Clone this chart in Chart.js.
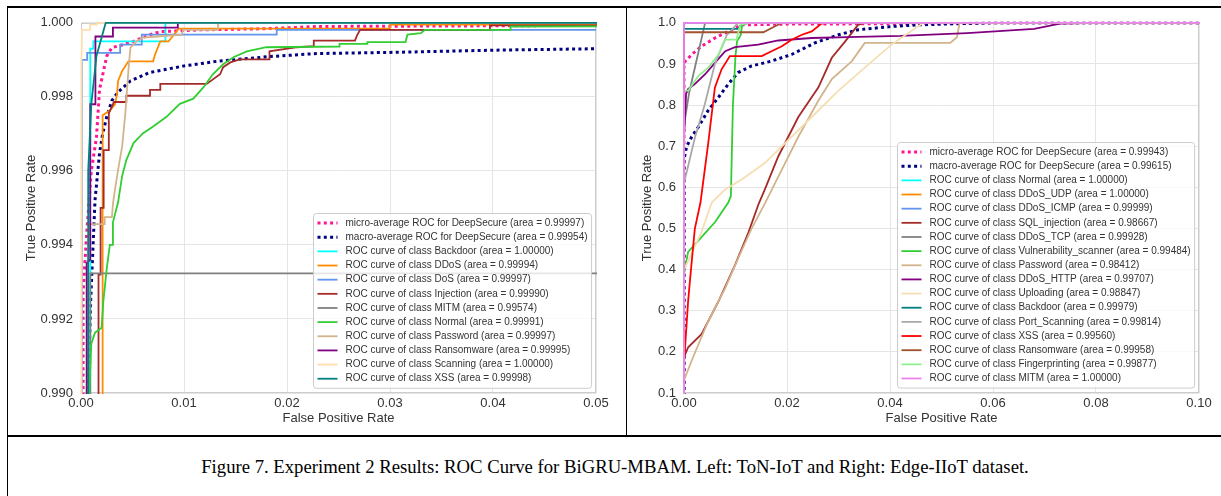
<!DOCTYPE html>
<html>
<head>
<meta charset="utf-8">
<title>ROC curves - BiGRU-MBAM</title>
<script src="https://cdn.jsdelivr.net/npm/chart.js@4.4.1/dist/chart.umd.min.js"></script>
<style>
  html, body { margin: 0; padding: 0; background: #fff; }
  body { width: 1221px; height: 496px; position: relative; overflow: hidden; }
  canvas { position: absolute; }
  #leftChart { left: 8px; top: 7px; }
  #rightChart { left: 627px; top: 7px; }
  .rule { position: absolute; background: #000; }
  #caption {
    position: absolute; left: 9px; right: 0; top: 456px;
    text-align: center; white-space: nowrap;
    font-family: "Liberation Serif", "Times New Roman", serif;
    font-size: 18.7px; color: #000;
  }
</style>
</head>
<body>
<canvas id="leftChart" width="617" height="428"></canvas>
<canvas id="rightChart" width="594" height="428"></canvas>
<div class="rule" style="left:7px;top:6px;width:1214px;height:2px"></div>
<div class="rule" style="left:7px;top:6px;width:1px;height:490px"></div>
<div class="rule" style="left:626px;top:6px;width:1px;height:430px"></div>
<div class="rule" style="left:7px;top:435px;width:1214px;height:2px"></div>
<div id="caption">Figure 7. Experiment 2 Results: ROC Curve for BiGRU-MBAM. Left: ToN-IoT and Right: Edge-IIoT dataset.</div>

<script>
/* ================= DATA : ToN-IoT (left) ================= */
// every curve is a list of [false positive rate, true positive rate]
const tonXTicks = [0, 0.01, 0.02, 0.03, 0.04, 0.05];
const tonXLabels = ["0.00", "0.01", "0.02", "0.03", "0.04", "0.05"];
const tonYTicks = [0.990, 0.992, 0.994, 0.996, 0.998, 1.000];
const tonYLabels = ["0.990", "0.992", "0.994", "0.996", "0.998", "1.000"];

const tonClasses = ["Backdoor", "DDoS", "DoS", "Injection", "MITM", "Normal",
  "Password", "Ransomware", "Scanning", "XSS"];
const tonAreas = [1.00000, 0.99994, 0.99997, 0.99990, 0.99574, 0.99991,
  0.99997, 0.99995, 1.00000, 0.99998];
const tonMicroArea = 0.99997;
const tonMacroArea = 0.99954;

const tonMicro = [[0.0002, 0.985], [0.0002, 0.9927], [0.00055, 0.9943], [0.001, 0.996],
  [0.0015, 0.9969], [0.0018, 0.9982], [0.0025, 0.9991], [0.003, 0.99933], [0.0041, 0.99941],
  [0.0051, 0.9995], [0.0067, 0.99968], [0.0077, 0.99976], [0.0116, 0.99981], [0.018, 0.99984],
  [0.0229, 0.9999], [0.05, 0.99993], [1, 1]];
const tonMacro = [[0.0007, 0.985], [0.0007, 0.990], [0.00094, 0.9925], [0.00136, 0.9952],
  [0.0018, 0.99648], [0.0021, 0.997], [0.0025, 0.99746], [0.003, 0.9979], [0.0036, 0.99813],
  [0.0048, 0.99843], [0.0067, 0.99866], [0.0099, 0.99883], [0.0132, 0.99896], [0.0184, 0.99909],
  [0.0229, 0.99917], [0.03, 0.9992], [0.04, 0.99926], [0.05, 0.9993], [1, 1]];
const tonBackdoor = [[0.0009, 0.985], [0.0009, 0.9993], [0.0012, 0.9993], [0.0012, 0.9995],
  [0.0082, 0.9995], [0.0082, 1], [1, 1]];
const tonDdos = [[0.0021, 0.985], [0.0021, 0.9975], [0.0028, 0.99763], [0.0033, 0.9978],
  [0.0035, 0.99808], [0.0036, 0.99843], [0.004, 0.9987], [0.0046, 0.99896], [0.007, 0.99896],
  [0.0072, 0.99915], [0.0077, 0.9995], [0.0085, 0.9995], [0.0095, 0.99984], [0.03, 0.99984],
  [0.03, 0.99995], [1, 1]];
const tonDos = [[0.00008, 0.985], [0.00008, 0.999], [0.0006, 0.999], [0.0006, 0.99919],
  [0.0038, 0.99919], [0.0038, 0.99941], [0.0059, 0.99941], [0.0059, 0.99968], [0.019, 0.99968],
  [0.019, 0.99981], [0.05, 0.99981], [1, 1]];
const tonInjection = [[0.0017, 0.985], [0.0017, 0.9932], [0.0019, 0.9932], [0.0019, 0.995],
  [0.0022, 0.995], [0.0022, 0.99656], [0.0027, 0.99656], [0.0027, 0.99755], [0.0032, 0.99786],
  [0.0044, 0.99786], [0.0044, 0.99803], [0.0067, 0.99803], [0.0067, 0.99819], [0.0077, 0.99819],
  [0.0077, 0.99835], [0.0122, 0.99835], [0.0135, 0.99861], [0.0138, 0.9988], [0.0145, 0.99893],
  [0.0154, 0.99901], [0.0183, 0.99901], [0.0183, 0.99923], [0.021, 0.99934], [0.0226, 0.99937],
  [0.0226, 0.99952], [0.0266, 0.99952], [0.0268, 0.99966], [0.0271, 0.99981], [0.0397, 0.99981],
  [0.0397, 0.99993], [1, 1]];
const tonMitm = [[0.0009, 0.985], [0.0009, 0.99323], [0.3, 0.99323], [1, 1]];
const tonNormal = [[0.0008, 0.985], [0.0008, 0.990], [0.001, 0.99133], [0.00136, 0.99163],
  [0.002, 0.99176], [0.00217, 0.99248], [0.0025, 0.99336], [0.0028, 0.994], [0.0031, 0.994],
  [0.0031, 0.99461], [0.0036, 0.99515], [0.004, 0.99587], [0.0044, 0.99629], [0.0051, 0.99675],
  [0.006, 0.99701], [0.007, 0.9972], [0.0083, 0.99746], [0.0096, 0.99781], [0.0109, 0.99795],
  [0.0119, 0.99826], [0.0128, 0.99861], [0.0138, 0.99888], [0.0148, 0.99907], [0.0161, 0.99923],
  [0.018, 0.99934], [0.0251, 0.99936], [0.0251, 0.99943], [0.0278, 0.99943], [0.0278, 0.99948],
  [0.0315, 0.99948], [0.0317, 0.99968], [0.033, 0.99972], [0.0334, 0.99981], [0.0417, 0.99981],
  [0.0417, 0.9999], [1, 1]];
const tonPassword = [[0.0007, 0.985], [0.0007, 0.994], [0.0008, 0.99456], [0.0023, 0.99456],
  [0.0023, 0.99475], [0.003, 0.99475], [0.0031, 0.9951], [0.0033, 0.9955], [0.0036, 0.99603],
  [0.004, 0.99667], [0.0043, 0.99755], [0.0046, 0.9987], [0.0048, 0.99933], [0.0054, 0.9995],
  [0.006, 0.9996], [0.0074, 0.99963], [0.0098, 0.99968], [0.0099, 0.99981], [0.0133, 0.99981],
  [0.0133, 1], [1, 1]];
const tonRansomware = [[0.00055, 0.985], [0.00055, 0.9935], [0.0009, 0.9936], [0.0009, 0.9978],
  [0.0014, 0.9978], [0.0014, 0.99963], [0.0031, 0.99963], [0.0031, 0.99987], [0.0094, 0.99987],
  [0.0094, 1], [1, 1]];
const tonScanning = [[0.00005, 0.985], [0.00005, 0.999], [0.0001, 0.99981], [0.00087, 0.99981],
  [0.00087, 0.99995], [0.00155, 0.99995], [0.00155, 1], [1, 1]];
const tonXss = [[0.0007, 0.985], [0.0007, 0.996], [0.001, 0.9978], [0.0015, 0.9991],
  [0.002, 0.9996], [0.0024, 1], [1, 1]];

const tonCurves = [tonBackdoor, tonDdos, tonDos, tonInjection, tonMitm, tonNormal,
  tonPassword, tonRansomware, tonScanning, tonXss];

/* ================= DATA : Edge-IIoT (right) ================= */
const edgeXTicks = [0, 0.02, 0.04, 0.06, 0.08, 0.10];
const edgeXLabels = ["0.00", "0.02", "0.04", "0.06", "0.08", "0.10"];
const edgeYTicks = [0.1, 0.2, 0.3, 0.4, 0.5, 0.6, 0.7, 0.8, 0.9, 1.0];
const edgeYLabels = ["0.1", "0.2", "0.3", "0.4", "0.5", "0.6", "0.7", "0.8", "0.9", "1.0"];

const edgeClasses = ["Normal", "DDoS_UDP", "DDoS_ICMP", "SQL_injection", "DDoS_TCP",
  "Vulnerability_scanner", "Password", "DDoS_HTTP", "Uploading", "Backdoor",
  "Port_Scanning", "XSS", "Ransomware", "Fingerprinting", "MITM"];
const edgeAreas = [1.00000, 1.00000, 0.99999, 0.98667, 0.99928, 0.99484, 0.98412, 0.99707,
  0.98847, 0.99979, 0.99814, 0.99560, 0.99958, 0.99877, 1.00000];
const edgeMicroArea = 0.99943;
const edgeMacroArea = 0.99615;

const edgeMicro = [[0, 0], [0, 0.903], [0.0015, 0.923], [0.0034, 0.943], [0.006, 0.963],
  [0.0086, 0.979], [0.0112, 0.995], [0.02, 0.9968], [0.045, 0.998], [0.06, 1], [1, 1]];
const edgeMacro = [[0, 0], [0, 0.667], [0.0005, 0.699], [0.0015, 0.723], [0.0028, 0.747],
  [0.0047, 0.787], [0.0067, 0.819], [0.0086, 0.851], [0.0105, 0.879], [0.0131, 0.895],
  [0.017, 0.907], [0.0209, 0.923], [0.0254, 0.951], [0.03, 0.971], [0.0338, 0.983],
  [0.0403, 0.991], [0.0454, 0.995], [0.0526, 0.9976], [0.06, 1], [1, 1]];
const edgeNormal = [[0, 0], [0, 1], [1, 1]];
const edgeDdosUdp = [[0, 0], [0, 1], [1, 1]];
const edgeDdosIcmp = [[0, 0], [0, 0.995], [0.0002, 1], [1, 1]];
const edgeSqlInjection = [[0, 0], [0, 0.187], [0.0008, 0.211], [0.0034, 0.243], [0.0067, 0.323],
  [0.0099, 0.411], [0.0125, 0.49], [0.0145, 0.56], [0.0157, 0.595], [0.0183, 0.675],
  [0.0222, 0.771], [0.0261, 0.843], [0.0287, 0.915], [0.0313, 0.955], [0.0338, 0.995],
  [0.035, 1], [1, 1]];
const edgeDdosTcp = [[0, 0], [0, 0.75], [0.001, 0.83], [0.0041, 1], [1, 1]];
const edgeVulnScanner = [[0, 0], [0, 0.39], [0.0008, 0.443], [0.0037, 0.483], [0.006, 0.515],
  [0.0086, 0.563], [0.0091, 0.579], [0.0095, 0.8], [0.01, 0.92], [0.0103, 0.955], [0.011, 0.97],
  [0.0113, 0.995], [0.0125, 1], [1, 1]];
const edgePassword = [[0, 0], [0, 0.131], [0.0015, 0.179], [0.0047, 0.275], [0.008, 0.355],
  [0.0105, 0.427], [0.0131, 0.499], [0.0158, 0.563], [0.0177, 0.611], [0.0222, 0.723],
  [0.0261, 0.811], [0.0287, 0.863], [0.0326, 0.907], [0.0351, 0.951], [0.0517, 0.951],
  [0.053, 0.965], [0.0533, 0.985], [0.0535, 1], [1, 1]];
const edgeDdosHttp = [[0, 0], [0, 0.72], [0.0004, 0.827], [0.0008, 0.839], [0.0021, 0.851],
  [0.0041, 0.875], [0.0063, 0.907], [0.008, 0.931], [0.0099, 0.941], [0.0144, 0.947],
  [0.0183, 0.957], [0.0248, 0.963], [0.0338, 0.966], [0.042, 0.968], [0.055, 0.975],
  [0.068, 0.985], [0.073, 0.998], [0.08, 1], [1, 1]];
const edgeUploading = [[0, 0], [0, 0.4], [0.0034, 0.491], [0.0054, 0.563], [0.008, 0.595],
  [0.0112, 0.619], [0.0157, 0.659], [0.0209, 0.723], [0.0248, 0.771], [0.03, 0.835],
  [0.0351, 0.891], [0.0403, 0.947], [0.0449, 0.987], [0.0465, 1], [1, 1]];
const edgeBackdoor = [[0, 0], [0, 0.985], [0.0105, 0.985], [0.0113, 1], [1, 1]];
const edgePortScanning = [[0, 0], [0, 0.61], [0.0021, 0.72], [0.004, 0.8], [0.006, 0.9],
  [0.0083, 0.97], [0.0105, 1], [1, 1]];
const edgeXss = [[0, 0], [0, 0.171], [0.0008, 0.323], [0.0012, 0.379], [0.0021, 0.499],
  [0.0032, 0.563], [0.0047, 0.707], [0.006, 0.843], [0.0073, 0.887], [0.0089, 0.919],
  [0.0151, 0.919], [0.017, 0.931], [0.019, 0.943], [0.0209, 0.959], [0.0229, 0.971],
  [0.0248, 0.979], [0.0267, 0.998], [0.028, 1], [1, 1]];
const edgeRansomware = [[0, 0], [0, 0.977], [0.0154, 0.977], [0.019, 1], [1, 1]];
const edgeFingerprinting = [[0, 0], [0, 0.835], [0.0008, 0.835], [0.0028, 0.871],
  [0.0047, 0.891], [0.0067, 0.923], [0.008, 0.959], [0.0102, 0.959], [0.0109, 0.995],
  [0.0118, 0.998], [0.013, 1], [1, 1]];
const edgeMitm = [[0, 0], [0, 1], [1, 1]];

const edgeCurves = [edgeNormal, edgeDdosUdp, edgeDdosIcmp, edgeSqlInjection, edgeDdosTcp,
  edgeVulnScanner, edgePassword, edgeDdosHttp, edgeUploading, edgeBackdoor,
  edgePortScanning, edgeXss, edgeRansomware, edgeFingerprinting, edgeMitm];

/* ================= STYLE ================= */
const tonColors = ["aqua", "darkorange", "cornflowerblue", "brown", "gray", "limegreen",
  "tan", "purple", "navajowhite", "teal"];
const edgeColors = ["aqua", "darkorange", "cornflowerblue", "brown", "gray", "limegreen",
  "tan", "purple", "wheat", "teal", "darkgray", "red", "sienna", "lightgreen", "violet"];

const FONT = '"Liberation Sans", Arial, Helvetica, sans-serif';
const INK = "#333333";
const DOTS = [3, 3.3];

/* ================= PLUGINS ================= */
// light grey frame round the plot area
const plotFrame = {
  id: "plotFrame",
  beforeDatasetsDraw(chart) {
    const { ctx, chartArea: a } = chart;
    ctx.save();
    ctx.strokeStyle = "#cccccc";
    ctx.lineWidth = 1;
    ctx.strokeRect(Math.round(a.left) + 0.5, Math.round(a.top) + 0.5,
      Math.round(a.width) - 1, Math.round(a.height) - 1);
    ctx.restore();
  }
};

// legend box in the lower right corner of the plot area
const insideLegend = {
  id: "insideLegend",
  afterDraw(chart) {
    const { ctx, chartArea } = chart;
    const sets = chart.data.datasets;
    ctx.save();
    ctx.font = "10px " + FONT;
    const textW = Math.max(...sets.map(d => ctx.measureText(d.label).width));
    const rowH = 14.15;
    const w = 4 + 20 + 8 + textW + 4;
    const h = sets.length * rowH + 5;
    const right = chartArea.right - 5;
    const bottom = chartArea.bottom - 5;
    const left = Math.round(right - w) + 0.5;
    const top = Math.round(bottom - h) + 0.5;

    ctx.beginPath();
    ctx.roundRect(left, top, w, h, 3);
    ctx.fillStyle = "rgba(255,255,255,0.8)";
    ctx.fill();
    ctx.strokeStyle = "#cccccc";
    ctx.lineWidth = 1;
    ctx.stroke();

    sets.forEach((d, i) => {
      const y = top + 2.5 + rowH * (i + 0.5);
      ctx.beginPath();
      ctx.setLineDash(d.borderDash || []);
      ctx.lineWidth = d.borderWidth;
      ctx.strokeStyle = d.borderColor;
      ctx.moveTo(left + 4, y);
      ctx.lineTo(left + 24, y);
      ctx.stroke();
      ctx.setLineDash([]);
      ctx.fillStyle = INK;
      ctx.textBaseline = "middle";
      ctx.fillText(d.label, left + 32, y);
    });
    ctx.restore();
  }
};

/* ================= BUILD ================= */
const toPoints = arr => arr.map(p => ({ x: p[0], y: p[1] }));

const buildDatasets = (micro, microArea, macro, macroArea, curves, classes, areas, colors) => {
  const sets = [
    {
      label: `micro-average ROC for DeepSecure (area = ${microArea.toFixed(5)})`,
      data: toPoints(micro), borderColor: "deeppink", borderWidth: 3, borderDash: DOTS
    },
    {
      label: `macro-average ROC for DeepSecure (area = ${macroArea.toFixed(5)})`,
      data: toPoints(macro), borderColor: "navy", borderWidth: 3, borderDash: DOTS
    }
  ];
  curves.forEach((curve, i) => {
    sets.push({
      label: `ROC curve of class ${classes[i]} (area = ${areas[i].toFixed(5)})`,
      data: toPoints(curve), borderColor: colors[i], borderWidth: 1.8
    });
  });
  // later curves sit on top, as in the original plot
  const n = sets.length;
  sets.forEach((s, i) => {
    s.order = n - i;
    s.pointRadius = 0;
    s.tension = 0;
    s.fill = false;
    s.clip = 1;
    s.borderCapStyle = "butt";
  });
  return sets;
};

const makeChart = (id, datasets, opt) => new Chart(document.getElementById(id), {
  type: "line",
  data: { datasets },
  plugins: [plotFrame, insideLegend],
  options: {
    responsive: false,
    animation: false,
    events: [],
    layout: { padding: { top: 11, right: opt.padRight, bottom: 0, left: 0 } },
    plugins: { legend: { display: false }, tooltip: { enabled: false } },
    scales: {
      x: {
        type: "linear",
        min: opt.xTicks[0],
        max: opt.xTicks[opt.xTicks.length - 1],
        afterBuildTicks: s => { s.ticks = opt.xTicks.map(v => ({ value: v })); },
        afterFit: s => { s.height = 42; },
        grid: { color: "#e5e5e5", drawTicks: false },
        border: { display: false },
        ticks: {
          padding: 3, color: INK, autoSkip: false, maxRotation: 0,
          font: { family: FONT, size: 13 },
          callback: (v, i) => opt.xLabels[i]
        },
        title: {
          display: true, text: "False Positive Rate", color: INK,
          font: { family: FONT, size: 13, lineHeight: 1.2 },
          padding: { top: 0, bottom: 9 }
        }
      },
      y: {
        type: "linear",
        min: opt.yTicks[0],
        max: opt.yTicks[opt.yTicks.length - 1],
        afterBuildTicks: s => { s.ticks = opt.yTicks.map(v => ({ value: v })); },
        afterFit: s => { s.width = opt.yWidth; },
        grid: { color: "#e5e5e5", drawTicks: false },
        border: { display: false },
        ticks: {
          padding: 8, color: INK, autoSkip: false,
          font: { family: FONT, size: 13 },
          callback: (v, i) => opt.yLabels[i]
        },
        title: {
          display: true, text: "True Positive Rate", color: INK,
          font: { family: FONT, size: 13, lineHeight: 1.2 },
          padding: { top: opt.yTitlePad, bottom: 0 }
        }
      }
    }
  }
});

makeChart("leftChart",
  buildDatasets(tonMicro, tonMicroArea, tonMacro, tonMacroArea,
    tonCurves, tonClasses, tonAreas, tonColors),
  { xTicks: tonXTicks, xLabels: tonXLabels, yTicks: tonYTicks, yLabels: tonYLabels,
    yWidth: 73, yTitlePad: 16, padRight: 29 });

makeChart("rightChart",
  buildDatasets(edgeMicro, edgeMicroArea, edgeMacro, edgeMacroArea,
    edgeCurves, edgeClasses, edgeAreas, edgeColors),
  { xTicks: edgeXTicks, xLabels: edgeXLabels, yTicks: edgeYTicks, yLabels: edgeYLabels,
    yWidth: 57, yTitlePad: 13, padRight: 22 });
</script>
</body>
</html>
